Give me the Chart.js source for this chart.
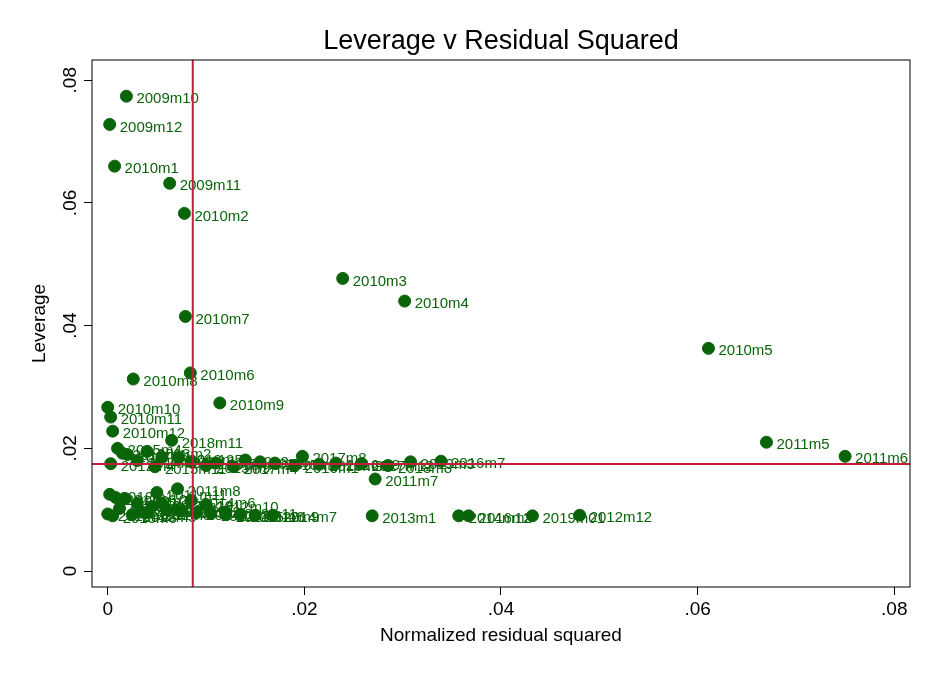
<!DOCTYPE html>
<html><head><meta charset="utf-8">
<script src="https://cdn.jsdelivr.net/npm/chart.js@4/dist/chart.umd.min.js"></script>
<style>body{margin:0;background:#fff}#wrap{width:935px;height:680px}</style>
</head><body><div id="wrap"><canvas id="c"></canvas></div>
<script>
// labelled and clustered points (normalized residual squared, leverage)
const months = ['2009m10','2009m12','2010m1','2009m11','2010m2','2010m3','2010m4','2010m7','2010m5','2010m6','2010m8','2010m9','2010m10','2010m11','2010m12','2011m5','2011m6','2017m8','2016m7','2011m7','2011m8','2013m1','2012m12','2019m01','2014m12','2016m3',
  '2018m11','2018m2','2015m4','2017m1','2016m12','2014m5','2015m9','2017m4','2018m6','2014m1','2015m2','2016m1','2013m9','2016m9','2017m12','2018m8','2019m3','2012m4','2014m9','2015m11','2013m5','2016m5','2019m1',
  '2012m1','2011m10','2012m3','2013m3','2011m9','2012m6','2013m8','2014m3','2012m8','2013m11','2015m6','2012m9','2014m7','2013m6','2015m5','2012m5','2011m12','2012m2','2014m6','2013m10','2012m7','2011m11','2012m10','2012m11','2013m2','2013m4'];
const resid = [0.0019,0.0002,0.0007,0.0063,0.0078,0.0239,0.0302,0.0079,0.0611,0.0084,0.0026,0.0114,0.0000,0.0003,0.0005,0.0670,0.0750,0.0198,0.0339,0.0272,0.0071,0.0269,0.0480,0.0432,0.0357,0.0367,
  0.0065,0.0040,0.0010,0.0020,0.0055,0.0085,0.0100,0.0128,0.0140,0.0155,0.0170,0.0190,0.0215,0.0232,0.0258,0.0285,0.0308,0.0003,0.0030,0.0048,0.0072,0.0110,0.0015,
  0.0002,0.0008,0.0018,0.0030,0.0045,0.0060,0.0075,0.0090,0.0105,0.0120,0.0135,0.0150,0.0168,0.0005,0.0025,0.0040,0.0055,0.0070,0.0085,0.0012,0.0035,0.0050,0.0100,0.0120,0.0000];
const leverage = [0.0774,0.0728,0.0660,0.0632,0.0583,0.0477,0.0440,0.0415,0.0363,0.0323,0.0313,0.0274,0.0267,0.0251,0.0228,0.0210,0.0187,0.0187,0.0179,0.0150,0.0134,0.0090,0.0091,0.0090,0.0090,0.0090,
  0.0213,0.0195,0.0200,0.0190,0.0185,0.0178,0.0172,0.0170,0.0181,0.0178,0.0176,0.0172,0.0174,0.0176,0.0175,0.0172,0.0178,0.0175,0.0180,0.0170,0.0185,0.0176,0.0192,
  0.0125,0.0120,0.0118,0.0110,0.0105,0.0100,0.0098,0.0095,0.0094,0.0092,0.0092,0.0091,0.0091,0.0090,0.0092,0.0095,0.0110,0.0100,0.0115,0.0102,0.0096,0.0128,0.0108,0.0096,0.0093];
const xTicks = [0, 0.02, 0.04, 0.06, 0.08];
const yTicks = [0, 0.02, 0.04, 0.06, 0.08];
const meanResid = 0.00865;
const meanLeverage = 0.01743;
const fmt = v => v === 0 ? '0' : ('.' + String(Math.round(v * 100)).padStart(2, '0'));

const points = resid.map((x, i) => ({x: x, y: leverage[i], label: months[i]}));
const green = '#0a640a';
const font = '"Liberation Sans", Arial, sans-serif';

const decor = {
  id: 'decor',
  afterDatasetsDraw(chart) {
    const {ctx, chartArea: a, scales: {x, y}} = chart;
    ctx.save();
    // labels
    ctx.fillStyle = green;
    ctx.font = '15px ' + font;
    ctx.textBaseline = 'middle';
    points.forEach(p => ctx.fillText(p.label, x.getPixelForValue(p.x) + 10, y.getPixelForValue(p.y) + 3));
    // reference lines
    ctx.strokeStyle = '#c41e3a'; ctx.lineWidth = 2;
    const mx = x.getPixelForValue(meanResid), my = y.getPixelForValue(meanLeverage);
    ctx.beginPath(); ctx.moveTo(mx, a.top); ctx.lineTo(mx, a.bottom);
    ctx.moveTo(a.left, my); ctx.lineTo(a.right, my); ctx.stroke();
    // frame
    ctx.strokeStyle = '#000'; ctx.lineWidth = 1;
    ctx.strokeRect(a.left, a.top, a.right - a.left, a.bottom - a.top);
    // rotated y tick labels
    ctx.fillStyle = '#000';
    ctx.font = '19px ' + font;
    ctx.textAlign = 'center'; ctx.textBaseline = 'bottom';
    yTicks.forEach(v => {
      ctx.save(); ctx.translate(a.left - 12, y.getPixelForValue(v)); ctx.rotate(-Math.PI / 2);
      ctx.fillText(fmt(v), 0, 0); ctx.restore();
    });
    // axis titles
    ctx.textBaseline = 'middle';
    ctx.save(); ctx.translate(40, (a.top + a.bottom) / 2); ctx.rotate(-Math.PI / 2);
    ctx.fillText('Leverage', 0, 0); ctx.restore();
    ctx.fillText('Normalized residual squared', (a.left + a.right) / 2, 636);
    // title
    ctx.font = '27px ' + font;
    ctx.fillText('Leverage v Residual Squared', (a.left + a.right) / 2, 42);
    ctx.restore();
  }
};

new Chart(document.getElementById('c'), {
  type: 'scatter',
  data: { datasets: [{ data: points, backgroundColor: green, borderColor: green, pointRadius: 6, pointHoverRadius: 6 }] },
  options: {
    responsive: true, maintainAspectRatio: false, animation: false,
    layout: { padding: { top: 60, right: 25, left: 0, bottom: 0 } },
    plugins: { legend: { display: false }, tooltip: { enabled: false } },
    scales: {
      x: {
        type: 'linear', min: -0.0016, max: 0.0816,
        afterBuildTicks: s => { s.ticks = xTicks.map(v => ({value: v})); },
        afterFit: s => { s.height = 93; },
        border: { display: false },
        grid: { drawOnChartArea: false, tickLength: 8, color: '#000' },
        ticks: { color: '#000', font: { size: 19, family: font }, callback: v => fmt(v), maxRotation: 0 }
      },
      y: {
        type: 'linear', min: -0.0026, max: 0.0833,
        afterBuildTicks: s => { s.ticks = yTicks.map(v => ({value: v})); },
        afterFit: s => { s.width = 92; },
        border: { display: false },
        grid: { drawOnChartArea: false, tickLength: 8, color: '#000' },
        ticks: { display: false }
      }
    }
  },
  plugins: [decor]
});
</script></body></html>
